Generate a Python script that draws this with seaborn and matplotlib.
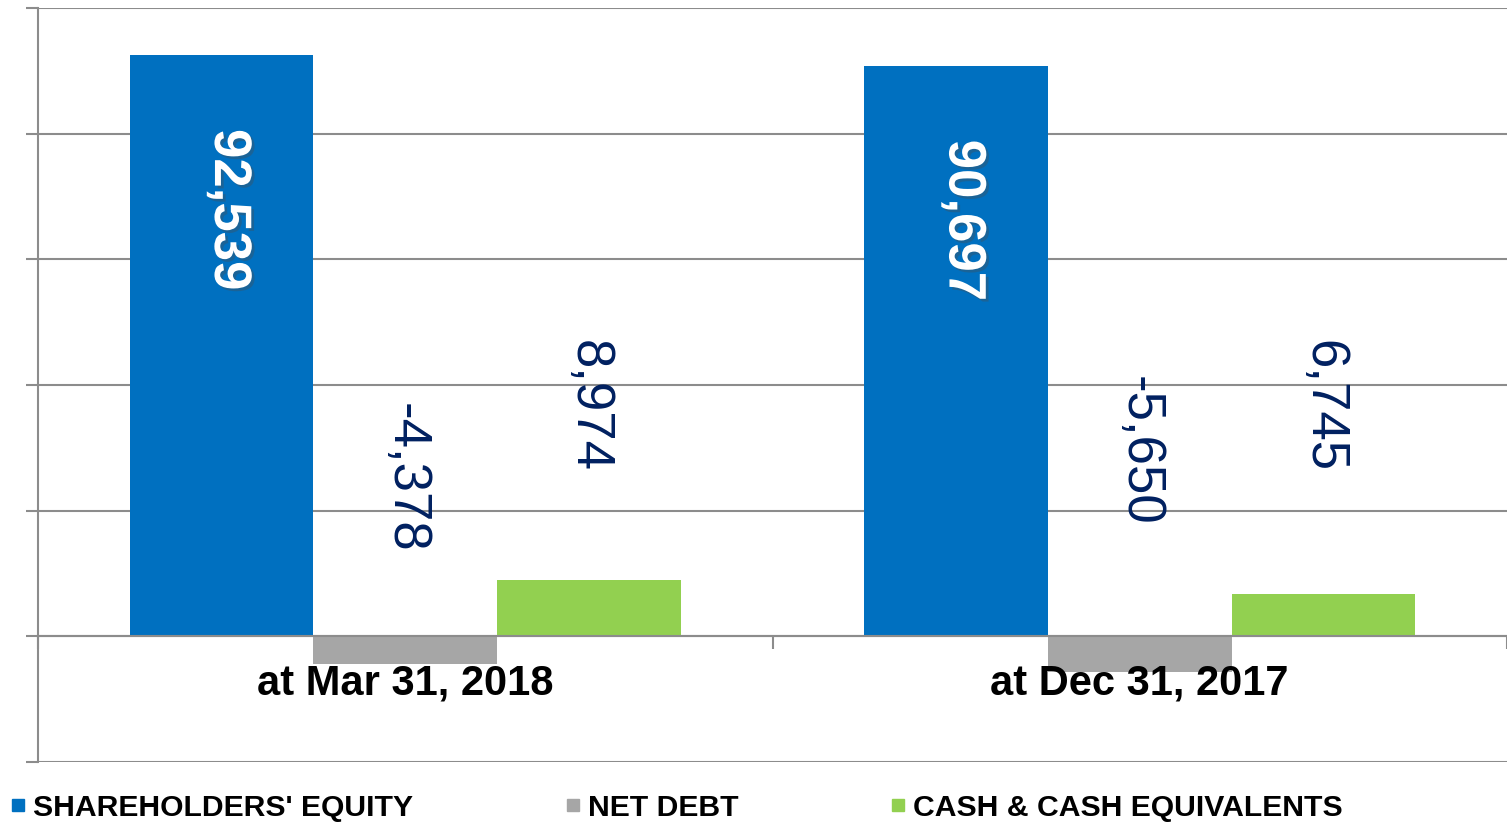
import matplotlib
matplotlib.use("Agg")
import matplotlib.pyplot as plt
import matplotlib.patheffects as pe
from matplotlib.lines import Line2D
import seaborn as sns
import pandas as pd
from matplotlib import font_manager

# ---- data ----
dates = ["at Mar 31, 2018", "at Dec 31, 2017"]
series = ["SHAREHOLDERS' EQUITY", "NET DEBT", "CASH & CASH EQUIVALENTS"]
equity = [92539, 90697]
net_debt = [-4378, -5650]
cash = [8974, 6745]
value_labels = [["92,539", "90,697"], ["-4,378", "-5,650"], ["8,974", "6,745"]]
# label anchor (vertical centre of rotated label, in data units)
label_y = [[67900, 66200], [25300, 29600], [36700, 36700]]
colors = ["#0070C0", "#A6A6A6", "#92D050"]

sns.set_theme(style="white")
avail = {f.name for f in font_manager.fontManager.ttflist}
narrow = "Liberation Sans Narrow" if "Liberation Sans Narrow" in avail else "Liberation Sans"
plt.rcParams["font.family"] = ["Liberation Sans", "DejaVu Sans"]
plt.rcParams["text.color"] = "black"

rows = []
for s, vals in zip(series, [equity, net_debt, cash]):
    for d, v in zip(dates, vals):
        rows.append({"date": d, "series": s, "value": v})
df = pd.DataFrame(rows)

fig = plt.figure(figsize=(15.07, 8.24), dpi=100)
ax = fig.add_axes([38 / 1507, 1 - 762 / 824, 1 - 38 / 1507, (762 - 8) / 824])

sns.barplot(data=df, x="date", y="value", hue="series", order=dates, hue_order=series,
            palette=colors, width=0.75, gap=0, saturation=1, ax=ax, legend=False,
            errorbar=None, linewidth=0)

ax.set_xlim(-0.5, 1.5)
ax.set_ylim(-20000, 100000)
ax.set_yticks(range(-20000, 100001, 20000))
ax.yaxis.grid(True, color="#8C8C8C", linewidth=1.5)
ax.set_axisbelow(True)
ax.tick_params(axis="y", which="both", left=True, length=9, width=1.5, color="#8C8C8C",
               labelleft=False, direction="out")
ax.set_ylabel("")
ax.set_xlabel("")

for side in ["top", "right"]:
    ax.spines[side].set_visible(False)
ax.spines["left"].set_color("#8C8C8C")
ax.spines["left"].set_linewidth(1.5)
ax.spines["bottom"].set_position(("data", 0))
ax.spines["bottom"].set_color("#8C8C8C")
ax.spines["bottom"].set_linewidth(1.5)

ax.set_xticks([0, 1])
ax.set_xticklabels([])
ax.tick_params(axis="x", which="major", length=0)
ax.set_xticks([-0.5, 0.5, 1.5], minor=True)
ax.tick_params(axis="x", which="minor", bottom=True, length=9, width=1.5,
               color="#8C8C8C", direction="out")

# category labels drawn on top of the bars
for k, d in enumerate(dates):
    ax.annotate(d, xy=(k, 0), xycoords="data", xytext=(0, -33.8),
                textcoords="offset points", ha="center", va="center",
                fontsize=30, fontweight="bold", color="black", zorder=10)

# value labels
for i, cont in enumerate(ax.containers):
    for j, bar in enumerate(cont):
        xc = bar.get_x() + bar.get_width() / 2
        if i == 0:
            ax.text(xc + 0.01, label_y[i][j], value_labels[i][j], rotation=270,
                    ha="center", va="center", fontsize=38, fontweight="bold",
                    color="white", family=[narrow, "DejaVu Sans"], zorder=10,
                    path_effects=[pe.SimplePatchShadow(offset=(2, -2), alpha=0.35),
                                  pe.Normal()])
        else:
            ax.text(xc, label_y[i][j], value_labels[i][j], rotation=270,
                    ha="center", va="center", fontsize=38, color="#002060",
                    family=[narrow, "DejaVu Sans"], zorder=10)

# legend
handles = [Line2D([0], [0], marker="s", linestyle="none", markersize=9,
                  markerfacecolor=c, markeredgecolor=c) for c in colors]
fig.legend(handles, series, loc="lower left", bbox_to_anchor=(9 / 1507, 0.003),
           ncol=3, frameon=False, handletextpad=0.2, columnspacing=5.0,
           handlelength=0.6, borderpad=0, borderaxespad=0, labelcolor="black",
           prop={"family": [narrow, "DejaVu Sans"], "weight": "bold", "size": 21.7})

fig.savefig("out.png", dpi=100)
